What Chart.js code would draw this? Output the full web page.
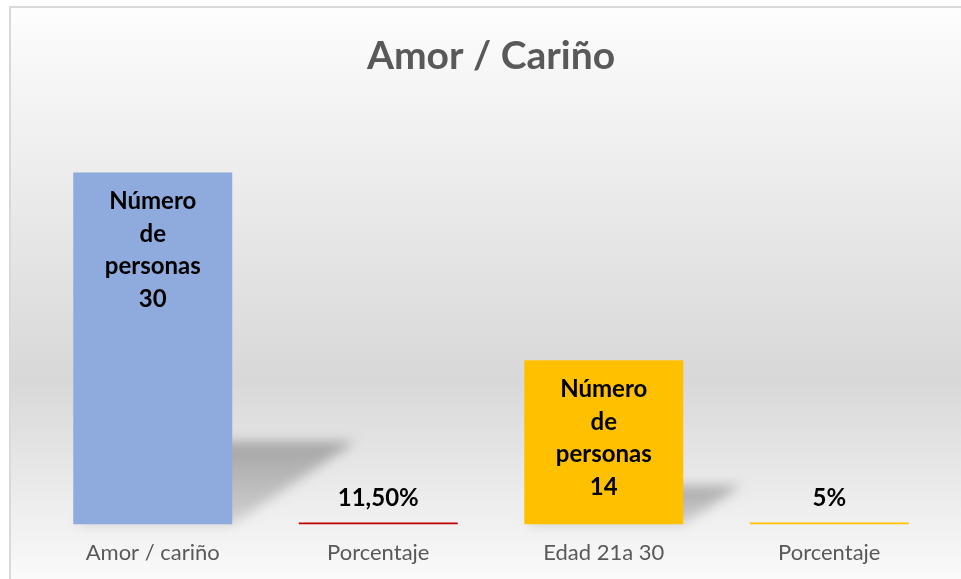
<!DOCTYPE html>
<html>
<head>
<meta charset="utf-8">
<script src="https://cdn.jsdelivr.net/npm/chart.js@4/dist/chart.umd.min.js"></script>
<style>
  html, body { margin: 0; padding: 0; background: #ffffff; }
  #wrap { width: 961px; height: 579px; position: relative; }
</style>
</head>
<body>
<div id="wrap"><canvas id="c" width="961" height="579"></canvas></div>
<script>
// ---- data ----
const categories = ['Amor / cariño', 'Porcentaje', 'Edad 21a 30', 'Porcentaje'];
const values = [30, 0.115, 14, 0.05];
const valueLabels = ['30', '11,50%', '14', '5%'];
const seriesNameLines = ['Número', 'de', 'personas'];
const barColors = ['#8FAADC', '#C00000', '#FFC000', '#FFC000'];
const chartTitle = 'Amor / Cariño';

const FONT = 'Lato, "Open Sans", sans-serif';

const backgroundPlugin = {
  id: 'bgPanel',
  beforeDraw(chart) {
    const ctx = chart.ctx;
    const W = chart.width, H = chart.height;
    ctx.save();
    ctx.fillStyle = '#ffffff';
    ctx.fillRect(0, 0, W, H);
    const x0 = 10, y0 = 7;
    const g = ctx.createLinearGradient(0, y0, 0, H);
    g.addColorStop(0, '#fdfdfd');
    g.addColorStop(0.3, '#ececec');
    g.addColorStop(0.65, '#d8d8d8');
    g.addColorStop(1, '#fafafa');
    ctx.fillStyle = g;
    ctx.fillRect(x0, y0, W + 20, H + 20);
    ctx.strokeStyle = '#d9d9d9';
    ctx.lineWidth = 2;
    ctx.strokeRect(x0, y0, W + 20, H + 20);
    ctx.restore();
  }
};

const shadowPlugin = {
  id: 'barShadow',
  beforeDatasetsDraw(chart) {
    const ctx = chart.ctx;
    const meta = chart.getDatasetMeta(0);
    ctx.save();
    ctx.filter = 'blur(6px)';
    meta.data.forEach((bar) => {
      const p = bar.getProps(['x', 'y', 'base', 'width'], true);
      const h = p.base - p.y;
      if (h < 20) return;
      const xL = p.x - p.width / 2, xR = p.x + p.width / 2;
      const dx = 0.35 * h, dy = 0.236 * h;
      const g = ctx.createLinearGradient(0, p.base, 0, p.base - dy);
      g.addColorStop(0, 'rgba(90,90,90,0.2)');
      g.addColorStop(1, 'rgba(90,90,90,0.45)');
      ctx.fillStyle = g;
      ctx.beginPath();
      ctx.moveTo(xL, p.base);
      ctx.lineTo(xR, p.base);
      ctx.lineTo(xR + dx, p.base - dy);
      ctx.lineTo(xL + dx, p.base - dy);
      ctx.closePath();
      ctx.fill();
    });
    ctx.restore();
  }
};

const labelPlugin = {
  id: 'barLabels',
  afterDatasetsDraw(chart) {
    const ctx = chart.ctx;
    const meta = chart.getDatasetMeta(0);
    ctx.save();
    ctx.fillStyle = '#000000';
    ctx.textAlign = 'center';
    ctx.textBaseline = 'middle';
    ctx.font = 'bold 24px ' + FONT;
    meta.data.forEach((bar, i) => {
      const p = bar.getProps(['x', 'y', 'base'], true);
      const h = p.base - p.y;
      if (h > 100) {
        const lines = seriesNameLines.concat([valueLabels[i]]);
        lines.forEach((t, k) => ctx.fillText(t, p.x, p.y + 29 + k * 32.5));
      } else {
        ctx.fillText(valueLabels[i], p.x, p.base - 26);
      }
    });
    ctx.restore();
  }
};

new Chart(document.getElementById('c'), {
  type: 'bar',
  data: {
    labels: categories,
    datasets: [{
      data: values,
      backgroundColor: barColors,
      borderWidth: 0,
      minBarLength: 2,
      categoryPercentage: 1.0,
      barPercentage: 0.705
    }]
  },
  options: {
    responsive: false,
    animation: false,
    devicePixelRatio: 1,
    layout: { padding: { left: 40, right: 19, top: 0, bottom: -2 } },
    plugins: {
      legend: { display: false },
      tooltip: { enabled: false },
      title: {
        display: true,
        text: chartTitle,
        color: '#595959',
        font: { family: FONT, size: 39, weight: 'bold' },
        padding: { top: 33, bottom: 34 }
      }
    },
    scales: {
      x: {
        grid: { display: false, drawTicks: false },
        border: { display: false },
        ticks: { color: '#595959', font: { family: FONT, size: 22 }, padding: 15 }
      },
      y: { display: false, min: 0, max: 35 }
    }
  },
  plugins: [backgroundPlugin, shadowPlugin, labelPlugin]
});
</script>
</body>
</html>
